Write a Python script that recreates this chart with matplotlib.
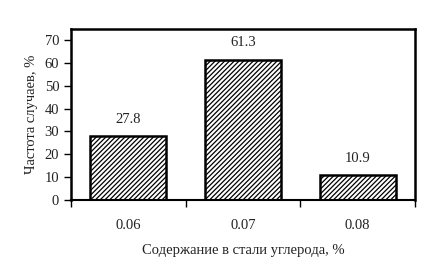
import matplotlib
matplotlib.use("Agg")
import matplotlib.pyplot as plt

# data
categories = ["0.06", "0.07", "0.08"]
values = [27.8, 61.3, 10.9]
yticks = [0, 10, 20, 30, 40, 50, 60, 70]

plt.rcParams["font.family"] = ["Liberation Serif", "DejaVu Serif"]
plt.rcParams["hatch.linewidth"] = 0.9

fig = plt.figure(figsize=(4.3, 2.78), dpi=100, facecolor="white")
ax = fig.add_axes([71 / 430, 1 - 200 / 278, (415 - 71) / 430, (200 - 29) / 278])

x = range(len(categories))
bars = ax.bar(x, values, width=0.66, color="white", edgecolor="black",
              linewidth=1.8, hatch="///////")

for xi, v in zip(x, values):
    ax.text(xi, v + 7.4, f"{v}", ha="center", va="center", fontsize=10.5, color="#222222")

ax.set_xlim(-0.5, 2.5)
ax.set_ylim(0, 74.8)
ax.set_yticks(yticks)
ax.set_xticks([-0.5, 0.5, 1.5, 2.5])
ax.set_xticklabels([])
ax.set_xticks(list(x), minor=True)
ax.set_xticklabels(categories, minor=True)
ax.tick_params(axis="x", which="major", direction="out", length=5, width=1)
ax.tick_params(axis="x", which="minor", length=0, pad=14, labelsize=10.5, labelcolor="#222222")
ax.tick_params(axis="y", direction="out", length=5, width=1, labelsize=10.5, labelcolor="#222222")

for s in ax.spines.values():
    s.set_linewidth(1.8)
    s.set_color("black")
ax.spines["bottom"].set_linewidth(1.5)

ax.set_ylabel("Частота случаев, %", fontsize=10.5, color="#222222", labelpad=5)
ax.set_xlabel("Содержание в стали углерода, %", fontsize=10.5, color="#222222", labelpad=8)

fig.savefig("out.png", dpi=100, facecolor="white")
